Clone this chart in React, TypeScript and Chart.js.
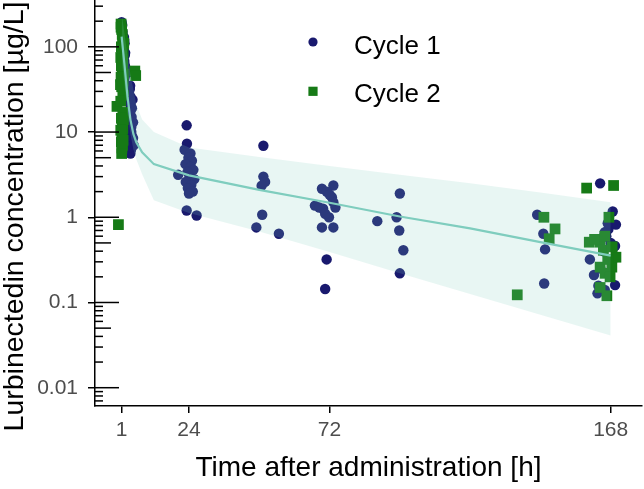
import React, { useEffect, useRef } from "react";
import { Chart, registerables } from "chart.js";

Chart.register(...registerables);

// ---------- data ----------
const cycle1Time = [
  1.0, 1.1, 1.3, 1.8, 2.0, 1.7, 2.1, 1.9, 2.2, 3.1, 2.0, 1.8, 3.8, 3.5, 4.0, 3.7, 4.2, 3.9, 4.4, 4.1, 4.3, 3.8, 4.5, 4.0, 4.6, 3.6, 4.2, 4.0,
  1.2, 1.9, 2.2, 2.0, 1.8, 3.9, 4.7, 4.5, 3.4, 4.9, 4.3, 4.9, 5.1, 3.7, 3.2, 3.5,
  23.2, 23.3, 22.5, 24.5, 23.8, 25.0, 22.8, 24.6, 25.5, 23.5, 20.3, 24.2, 25.8, 22.9, 24.8, 23.6, 25.3, 24.0, 23.2, 26.6,
  49.4, 49.4, 50.0, 48.8, 49.0, 47.0, 54.7,
  69.4, 73.3, 72.8, 67.0, 69.8, 73.3, 71.8, 69.4, 73.3, 71.0, 72.0, 68.5, 74.0, 70.5, 71.0, 70.5,
  88.3, 96.0, 94.9, 95.8, 97.2, 96.0,
  142.9, 145.0, 145.6, 145.3,
  164.4, 168.7, 169.8, 166.0, 169.5, 160.9, 162.3, 163.8, 169.5, 163.5, 165.0, 167.2, 166.5, 168.0, 167.0, 165.5, 168.5, 164.5, 166.0,
];
const cycle1Conc = [
  195, 175, 150, 130, 110, 95, 80, 68, 58, 50, 43, 37, 32, 29, 26, 23, 20, 17, 15, 13, 11.5, 10, 9, 8, 7.2, 6.8, 6.2, 5.6,
  180, 120, 85, 62, 45, 35, 24, 19, 16, 13, 10, 8.5, 7, 6.6, 28, 11,
  12, 7.3, 6.2, 5.6, 5.0, 4.6, 4.2, 3.9, 3.6, 3.4, 3.15, 3.0, 2.8, 2.6, 2.4, 2.2, 2.0, 1.9, 1.2, 1.05,
  6.9, 3.0, 2.6, 2.35, 1.07, 0.76, 0.64,
  2.16, 2.36, 1.72, 1.37, 1.26, 1.5, 1.0, 0.76, 0.76, 2.0, 1.85, 1.3, 1.3, 1.1, 0.32, 0.144,
  0.9, 1.9, 1.0, 0.7, 0.41, 0.22,
  1.07, 0.64, 0.42, 0.167,
  2.5, 1.17, 0.82, 0.67, 0.46, 0.32, 0.21, 0.157, 0.16, 0.128, 0.57, 0.72, 0.6, 0.5, 0.85, 0.4, 0.3, 0.25, 0.14,
];

const cycle2Time = [
  0.8, 1.0, 1.2, 1.3, 0.9, 1.5, 0.7, 1.3, 1.2, 5.5, 5.8, 1.5, 1.0, 1.4, 1.6, -0.6, 1.4, 0.9, 1.2, 1.4,
  1.1, 1.2, 0.9, 1.3, 1.1, 0.7, 1.6, 0.8, 1.7, -0.1, 1.0, 0.8, 1.1, 1.4, 0.9, 1.6, 0.7, 1.5, 0.6,
  145.2, 149.0, 147.0, 136.1,
  159.8, 169.0, 167.4, 160.7, 164.4, 165.5, 168.4, 166.1, 167.8, 164.4, 166.7, 164.4, 169.8, 162.5, 166.0, 168.5, 167.0,
];
const cycle2Conc = [
  185, 160, 140, 120, 100, 88, 75, 65, 55, 52, 46, 40, 34, 30, 27, 20, 17, 14.5, 12.5, 11,
  9.5, 8.5, 7.6, 7, 6.5, 23, 48, 44, 110, 0.82, 5.6, 170, 80, 72, 60, 14, 10.5, 8, 36,
  1.0, 0.73, 0.56, 0.123,
  2.2, 2.36, 1.0, 0.51, 0.51, 0.41, 0.26, 0.22, 0.2, 0.26, 0.12, 0.15, 0.34, 0.55, 0.6, 0.45, 0.32,
];

const modelTime = [1, 2, 3, 4, 5, 6, 8, 12, 24, 48, 72, 96, 120, 144, 168];
const modelMedian = [132, 60, 26, 14, 9.5, 7.6, 5.8, 4.2, 3.1, 2.1, 1.48, 1.02, 0.74, 0.51, 0.355];
const modelUpper = [250, 141, 79, 48, 32, 21, 14, 10, 6.6, 5.1, 4.0, 3.15, 2.5, 1.95, 1.5];
const modelLower = [70, 35, 17, 9.5, 6.3, 4.8, 3.2, 1.58, 1.12, 0.68, 0.39, 0.22, 0.126, 0.072, 0.041];

const xTickValues = [1, 24, 72, 168];
const yTickValues = [0.01, 0.1, 1, 10, 100];
const seriesLabels = ["Cycle 1", "Cycle 2"];
const xTitle = "Time after administration [h]";
const yTitle = "Lurbinectedin concentration [µg/L]";

// ---------- styles ----------
const NAVY = "rgb(25,25,110)";
const GREEN = "rgb(22,122,22)";
const TEAL = "rgb(127,205,190)";
const BAND = "rgba(127,205,190,0.18)";
const FONT = "'Liberation Sans', Arial, sans-serif";

const toPoints = (xs: number[], ys: number[]) => xs.map((x, i) => ({ x, y: ys[i] }));

const logTicksPlugin = {
  id: "logTicks",
  afterDraw(chart: any) {
    const y = chart.scales.y;
    const { left } = chart.chartArea;
    const ctx = chart.ctx;
    ctx.save();
    ctx.strokeStyle = "#000";
    ctx.lineWidth = 1.5;
    for (let e = -4; e <= 3; e++) {
      for (let k = 1; k <= 9; k++) {
        const v = k * Math.pow(10, e);
        if (v < y.min || v > y.max) continue;
        const py = y.getPixelForValue(v);
        const len = k === 1 ? 24 : k === 5 ? 16 : 8;
        ctx.beginPath();
        ctx.moveTo(left, py);
        ctx.lineTo(left + len, py);
        ctx.stroke();
      }
    }
    ctx.restore();
  },
};

const titlesPlugin = {
  id: "axisTitles",
  afterDraw(chart: any) {
    const { left, right, top, bottom } = chart.chartArea;
    const ctx = chart.ctx;
    ctx.save();
    ctx.fillStyle = "#000";
    ctx.textAlign = "center";
    ctx.textBaseline = "alphabetic";
    ctx.font = `28px ${FONT}`;
    ctx.fillText(xTitle, (left + right) / 2, bottom + 70);
    ctx.font = `28.5px ${FONT}`;
    ctx.translate(left - 72, (top + bottom) / 2 + 13);
    ctx.rotate(-Math.PI / 2);
    ctx.fillText(yTitle, 0, 0);
    ctx.restore();
  },
};

const legendPlugin = {
  id: "insideLegend",
  afterDraw(chart: any) {
    const { left, top } = chart.chartArea;
    const ctx = chart.ctx;
    ctx.save();
    const mx = left + 218;
    const tx = left + 259;
    const ds0 = chart.data.datasets[0];
    ctx.fillStyle = ds0.backgroundColor;
    ctx.beginPath();
    ctx.arc(mx, top + 41, 4.6, 0, Math.PI * 2);
    ctx.fill();
    const ds1 = chart.data.datasets[1];
    ctx.fillStyle = ds1.backgroundColor;
    ctx.fillRect(mx - 4.6, top + 90.3 - 4.6, 9.2, 9.2);
    ctx.fillStyle = "#000";
    ctx.font = `26px ${FONT}`;
    ctx.textAlign = "left";
    ctx.textBaseline = "alphabetic";
    ctx.fillText(ds0.label, tx, top + 52.5);
    ctx.fillText(ds1.label, tx, top + 101);
    ctx.restore();
  },
};

export default function App() {
  const ref = useRef<HTMLCanvasElement>(null);

  useEffect(() => {
    const canvas = ref.current;
    if (!canvas) return;
    const chart = new Chart(canvas, {
      type: "scatter",
      data: {
        datasets: [
          {
            label: seriesLabels[0],
            data: toPoints(cycle1Time, cycle1Conc),
            pointStyle: "circle",
            pointRadius: 5.2,
            backgroundColor: NAVY,
            borderWidth: 0,
            order: 4,
          } as any,
          {
            label: seriesLabels[1],
            data: toPoints(cycle2Time, cycle2Conc),
            pointStyle: "rect",
            pointRadius: 7.6,
            backgroundColor: GREEN,
            borderWidth: 0,
            order: 3,
          } as any,
          {
            type: "line",
            label: "lower",
            data: toPoints(modelTime, modelLower),
            borderWidth: 0,
            borderColor: "rgba(0,0,0,0)",
            pointRadius: 0,
            fill: false,
            order: 2,
          } as any,
          {
            type: "line",
            label: "upper",
            data: toPoints(modelTime, modelUpper),
            borderWidth: 0,
            borderColor: "rgba(0,0,0,0)",
            backgroundColor: BAND,
            pointRadius: 0,
            fill: "-1",
            order: 2,
          } as any,
          {
            type: "line",
            label: "median",
            data: toPoints(modelTime, modelMedian),
            borderColor: TEAL,
            borderWidth: 2.2,
            pointRadius: 0,
            fill: false,
            order: 1,
          } as any,
        ],
      },
      options: {
        animation: false,
        responsive: false,
        devicePixelRatio: 1,
        events: [],
        layout: { autoPadding: false, padding: { left: 0, right: 2, top: 1, bottom: 0 } },
        plugins: {
          legend: { display: false },
          tooltip: { enabled: false },
        },
        scales: {
          x: {
            type: "linear",
            min: -8.1,
            max: 178.7,
            afterBuildTicks: (s: any) => {
              s.ticks = xTickValues.map((v) => ({ value: v }));
            },
            afterFit: (s: any) => {
              s.height = 83;
              s.paddingLeft = 0;
              s.paddingRight = 0;
            },
            grid: { display: true, drawOnChartArea: false, drawTicks: true, tickLength: 7, color: "#000", lineWidth: 1.5 },
            border: { display: true, color: "#000", width: 1.5 },
            ticks: {
              color: "#4D4D4D",
              font: { family: FONT, size: 21 },
              padding: 5,
              maxRotation: 0,
              autoSkip: false,
              callback: (v: any) => String(v),
            },
          },
          y: {
            type: "logarithmic",
            min: 0.0061,
            max: 345,
            afterBuildTicks: (s: any) => {
              s.ticks = yTickValues.map((v) => ({ value: v }));
            },
            afterFit: (s: any) => {
              s.width = 95;
              s.paddingTop = 0;
              s.paddingBottom = 0;
            },
            grid: { display: true, drawOnChartArea: false, drawTicks: true, tickLength: 7, color: "#000", lineWidth: 1.5 },
            border: { display: true, color: "#000", width: 1.5 },
            ticks: {
              color: "#4D4D4D",
              font: { family: FONT, size: 21 },
              padding: 10,
              autoSkip: false,
              callback: (v: any) => String(Number(v)),
            },
          },
        },
      },
      plugins: [logTicksPlugin, titlesPlugin, legendPlugin],
    });
    return () => chart.destroy();
  }, []);

  return (
    <div style={{ position: "fixed", left: 0, top: 0, width: 644, height: 489, background: "#fff" }}>
      <canvas ref={ref} width={644} height={489} style={{ display: "block", width: 644, height: 489 }} />
    </div>
  );
}
